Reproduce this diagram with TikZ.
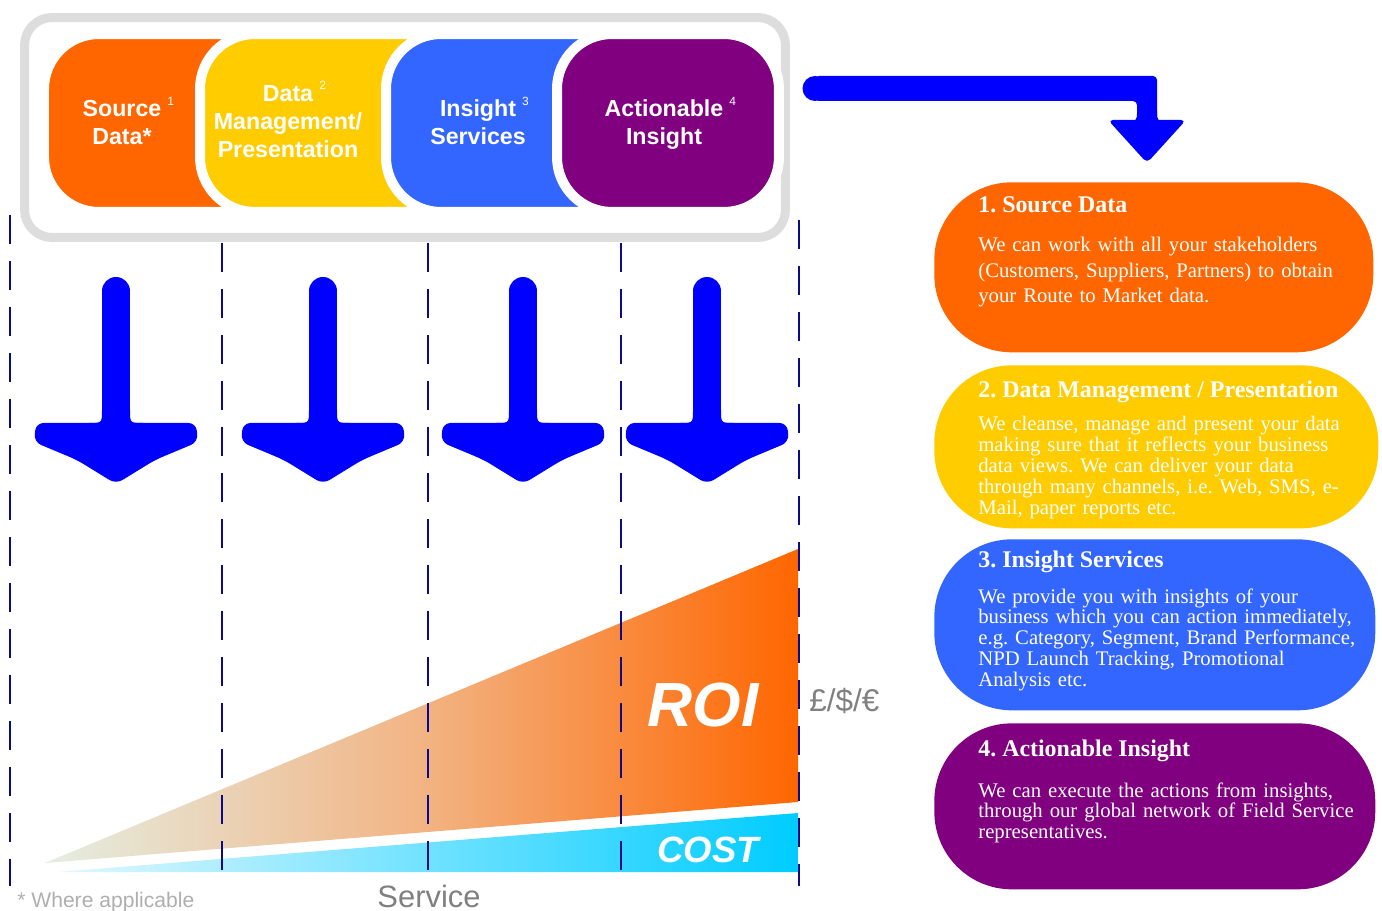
\documentclass[tikz,border=0pt]{standalone}
\usepackage{fontspec}
\setmainfont{Liberation Serif}
\setsansfont{Liberation Sans}
\usetikzlibrary{positioning}
\frenchspacing

\definecolor{capOrange}{HTML}{FF6600}
\definecolor{capYellow}{HTML}{FFCC00}
\definecolor{capBlue}{HTML}{3366FF}
\definecolor{capPurple}{HTML}{800080}
\definecolor{arrowBlue}{HTML}{0000FF}
\definecolor{frameGrey}{HTML}{DDDDDD}
\definecolor{dashNavy}{RGB}{10,10,140}
\definecolor{roiPale}{RGB}{228,238,226}
\definecolor{roiMid}{RGB}{242,180,132}
\definecolor{costPale}{RGB}{225,248,255}
\definecolor{costCyan}{RGB}{0,204,255}
\definecolor{labelGrey}{RGB}{128,128,128}
\definecolor{noteGrey}{RGB}{175,175,175}

\newcommand{\capnum}[1]{\rlap{\hspace{3.5pt}\raisebox{6.5pt}{\mdseries\fontsize{6.8}{7}\selectfont #1}}}

\begin{document}
\begin{tikzpicture}[x=0.02cm,y=-0.02cm,
        stage/.style={draw=white,line width=0.2cm,rounded corners=1.1cm,minimum height=3.56cm,anchor=west,inner sep=0pt},
        stage label/.style={text=white,font=\sffamily\bfseries\fontsize{13.2}{16.2}\selectfont,align=center,anchor=base},
        info box/.style={rounded corners=1.55cm,anchor=north west,inner sep=0pt},
        info title/.style={text=white,font=\bfseries\fontsize{13.6}{16}\selectfont,anchor=base west,inner sep=0pt},
        info text/.style={text=white,text width=8.3cm,align=left,anchor=base west,inner sep=0pt},
        divider/.style={dashNavy,line width=0.04cm,dash pattern=on 0.58cm off 0.34cm}]
    \useasboundingbox (0,0) rectangle (1382,911);

    \node[draw=frameGrey,fill=white,line width=0.18cm,rounded corners=0.55cm,minimum width=15.22cm,minimum height=4.4cm,inner sep=0pt] (frame) at (405,127.5) {};
    \node[stage,fill=capOrange,minimum width=5.7cm] (srcCap) at (39,123) {};
    \node[stage,fill=capYellow,minimum width=6.1cm] (dmCap) at (195,123) {};
    \node[stage,fill=capBlue,minimum width=6cm] (insCap) at (381,123) {};
    \node[stage,fill=capPurple,minimum width=4.44cm] (actCap) at (552,123) {};

    \node[stage label] (srcLbl) at (122,145) {Source\capnum{1}\\Data*};
    \node[stage label] (dmLbl) at (288,158) {Data\capnum{2}\\Management/\\Presentation};
    \node[stage label] (insLbl) at (478,145) {Insight\capnum{3}\\Services};
    \node[stage label] (actLbl) at (664,145) {Actionable\capnum{4}\\Insight};

    \foreach \x in {116,323,523,707}{
        \draw[arrowBlue,line width=0.56cm,line cap=round,shift={(\x,0)}] (0,291) -- (0,430);
        \fill[arrowBlue,shift={(\x,0)}] (-14,410) .. controls (-14,423) .. (-27,423) -- (27,423) .. controls (14,423) .. (14,410) -- cycle;
        \fill[arrowBlue,rounded corners=0.15cm,shift={(\x,0)}] (-80,423) -- (80,423) -- (82,442) -- (39,460) -- (0,484) -- (-39,460) -- (-82,442) -- cycle;
    }

    \fill[arrowBlue,rounded corners=0.08cm] (815,76) -- (1157,76) -- (1157,128) -- (1137,128) -- (1137,101) -- (815,101) -- cycle;
    \fill[arrowBlue] (815,88.5) circle [radius=0.25cm];
    \fill[arrowBlue] (1137,111) .. controls (1137,121) .. (1126,121) -- (1168,121) .. controls (1157,121) .. (1157,111) -- cycle;
    \fill[arrowBlue,rounded corners=0.1cm] (1108,120) -- (1186,120) -- (1147,163) -- cycle;

    \node[info box,fill=capOrange,minimum width=8.78cm,minimum height=3.4cm] (srcBox) at (934,182) {};
    \node[info box,fill=capYellow,minimum width=8.88cm,minimum height=3.26cm] (dmBox) at (934,365) {};
    \node[info box,fill=capBlue,minimum width=8.82cm,minimum height=3.42cm] (insBox) at (934,539) {};
    \node[info box,fill=capPurple,minimum width=8.82cm,minimum height=3.32cm] (actBox) at (934,723) {};

    \node[info title] (srcTitle) at (978,213) {1. Source Data};
    \node[info text,font=\fontsize{11.8}{14.6}\selectfont] (srcText) at (978,251.7) {We can work with all your stakeholders\\(Customers, Suppliers, Partners) to obtain\\your Route to Market data.};
    \node[info title] (dmTitle) at (978,398) {2. Data Management / Presentation};
    \node[info text,font=\fontsize{11.8}{11.9}\selectfont] (dmText) at (978,430.7) {We cleanse, manage and present your data\\making sure that it reflects your business\\data views. We can deliver your data\\through many channels, i.e. Web, SMS, e-\\Mail, paper reports etc.};
    \node[info title] (insTitle) at (978,567) {3. Insight Services};
    \node[info text,font=\fontsize{11.8}{11.9}\selectfont] (insText) at (978,603) {We provide you with insights of your\\business which you can action immediately,\\e.g. Category, Segment, Brand Performance,\\NPD Launch Tracking, Promotional\\Analysis etc.};
    \node[info title] (actTitle) at (978,756) {4. Actionable Insight};
    \node[info text,font=\fontsize{11.8}{11.9}\selectfont] (actText) at (978,797) {We can execute the actions from insights,\\through our global network of Field Service\\representatives.};

    \shade[left color=roiPale,right color=capOrange,middle color=roiMid] (45,863) -- (798,549) -- (798,802) -- cycle;
    \shade[left color=costPale,right color=costCyan] (57,872) -- (798,813) -- (798,872) -- cycle;

    \node[text=white,font=\sffamily\bfseries\itshape\fontsize{35.5}{36}\selectfont] (roi) at (703,705) {ROI};
    \node[text=white,font=\sffamily\bfseries\itshape\fontsize{20.8}{21}\selectfont] (cost) at (708,850) {COST};
    \node[text=labelGrey,font=\sffamily\fontsize{17.9}{18}\selectfont,anchor=base west,inner sep=0pt] (money) at (809,711) {£/\$/€};
    \node[text=labelGrey,font=\sffamily\fontsize{17.6}{18}\selectfont,anchor=base,inner sep=0pt] (service) at (429,907) {Service};
    \node[text=noteGrey,font=\sffamily\fontsize{12}{12}\selectfont,anchor=base west,inner sep=0pt] (note) at (17,907) {* Where applicable};

    \foreach \x/\y in {10/215,222/243,428/243,621/243,799/220}
        \draw[divider] (\x,\y) -- (\x,886);
\end{tikzpicture}
\end{document}
